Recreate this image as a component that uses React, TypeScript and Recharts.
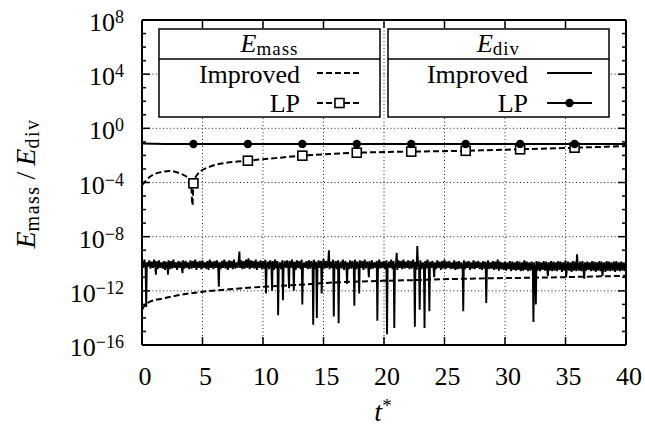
import React from 'react';
import { ComposedChart, Line, XAxis, YAxis, CartesianGrid } from 'recharts';

const FONT = "Liberation Serif, DejaVu Serif, Noto Serif, Times New Roman, serif";

// ---- axis ticks ----
const X_TICKS = [0, 5, 10, 15, 20, 25, 30, 35, 40];
const X_GRID = [5, 10, 15, 20, 25, 30, 35];
const Y_DECADES = [-16, -15, -14, -13, -12, -11, -10, -9, -8, -7, -6, -5, -4, -3, -2, -1, 0, 1, 2, 3, 4, 5, 6, 7, 8];
const Y_MAJOR = [-16, -12, -8, -4, 0, 4, 8];
const Y_GRID = [-12, -8, -4, 0, 4];

// ---- marker times (LP series) ----
const MARKER_T = [4.25, 8.75, 13.25, 17.75, 22.25, 26.75, 31.25, 35.75];

// ---- E_div, LP (log10 values) ----
const EDIV_LP_T = [0, 2, 4.25, 8.75, 13.25, 17.75, 22.25, 26.75, 31.25, 35.75, 40];
const EDIV_LP_LOG = [-1.12, -1.15, -1.16, -1.16, -1.15, -1.16, -1.15, -1.16, -1.15, -1.16, -1.16];

// ---- E_mass, LP (log10 values) ----
const EMASS_LP_T = [0, 0.25, 0.66, 1.49, 2.31, 3.14, 3.83, 4.05, 4.17, 4.25, 4.65, 5.62, 7.0, 8.75, 11, 13.25, 15.5, 17.75, 20, 22.25, 24.5, 26.75, 29, 31.25, 33.5, 35.75, 38, 40];
const EMASS_LP_LOG = [-4.2, -3.94, -3.57, -3.25, -3.15, -3.33, -3.69, -3.95, -5.66, -4.06, -3.33, -2.83, -2.54, -2.39, -2.2, -2.02, -1.9, -1.8, -1.75, -1.72, -1.69, -1.66, -1.6, -1.55, -1.49, -1.43, -1.37, -1.31];

// ---- E_mass, Improved (log10 values) ----
const EMASS_IMP_T = [0, 0.3, 0.66, 1.76, 3.1, 5.0, 7.2, 10, 12.7, 15.5, 20, 22.8, 25.5, 28.3, 32.4, 36.5, 40];
const EMASS_IMP_LOG = [-13.4, -13.0, -12.8, -12.56, -12.31, -12.07, -11.89, -11.7, -11.57, -11.4, -11.26, -11.2, -11.13, -11.08, -11.03, -10.96, -10.89];

// ---- E_div, Improved (log10 values, sampled every 0.1 time units) ----
const EDIV_IMP_DT = 0.1;
const EDIV_IMP_BASE = [
  -9.8, -10.3, -9.7, -10.4, -9.9, -10.2, -9.75, -10.35, -9.85, -10.3, -9.7, -10.25, -9.8, -10.4, -9.75, -10.3, -9.9, -10.35, -9.8, -10.45,
  -9.85, -10.3, -9.75, -10.4, -9.8, -10.35, -9.7, -10.3, -9.9, -10.45, -9.8, -10.3, -9.85, -10.4, -9.75, -10.35, -9.8, -10.3, -9.9, -10.4,
  -9.75, -10.35, -9.8, -10.3, -9.7, -10.45, -9.85, -10.3, -9.8, -10.4, -9.75, -10.3, -9.9, -10.35, -9.8, -10.45, -9.7, -10.3, -9.85, -10.4,
  -9.8, -10.3, -9.75, -10.35, -9.9, -10.4, -9.8, -10.3, -9.7, -10.35, -9.85, -10.45, -9.75, -10.3, -9.8, -10.4, -9.7, -10.35, -9.9, -10.3,
  -9.65, -10.3, -9.75, -10.4, -9.8, -10.35, -9.7, -10.3, -9.6, -10.4, -9.75, -10.3, -9.8, -10.35, -9.7, -10.45, -9.85, -10.3, -9.75, -10.4,
  -9.8, -10.35, -9.7, -10.3, -9.85, -10.4, -9.75, -10.3, -9.8, -10.45, -9.7, -10.35, -9.8, -10.3, -9.9, -10.4, -9.75, -10.35, -9.8, -10.3,
  -9.75, -10.4, -9.8, -10.3, -9.7, -10.35, -9.85, -10.45, -9.75, -10.3, -9.8, -10.4, -9.7, -10.35, -9.9, -10.3, -9.8, -10.4, -9.75, -10.35,
  -9.8, -10.3, -9.7, -10.4, -9.85, -10.35, -9.75, -10.3, -9.8, -10.45, -9.65, -10.35, -9.8, -10.3, -9.75, -10.4, -9.85, -10.3, -9.7, -10.35,
  -9.8, -10.4, -9.75, -10.3, -9.85, -10.35, -9.7, -10.45, -9.8, -10.3, -9.9, -10.4, -9.75, -10.35, -9.8, -10.3, -9.7, -10.4, -9.85, -10.35,
  -9.75, -10.3, -9.8, -10.45, -9.7, -10.35, -9.85, -10.3, -9.8, -10.4, -9.75, -10.35, -9.9, -10.3, -9.8, -10.45, -9.7, -10.35, -9.85, -10.3,
  -9.8, -10.4, -9.75, -10.35, -9.85, -10.3, -9.7, -10.4, -9.8, -10.35, -9.9, -10.45, -9.75, -10.3, -9.8, -10.4, -9.7, -10.35, -9.85, -10.3,
  -9.75, -10.4, -9.8, -10.35, -9.7, -10.3, -9.85, -10.45, -9.8, -10.35, -9.75, -10.4, -9.9, -10.3, -9.8, -10.35, -9.7, -10.45, -9.85, -10.3,
  -9.8, -10.35, -9.9, -10.4, -9.75, -10.3, -9.85, -10.45, -9.8, -10.35, -9.7, -10.4, -9.85, -10.3, -9.8, -10.4, -9.9, -10.35, -9.75, -10.45,
  -9.85, -10.4, -9.8, -10.35, -9.9, -10.45, -9.75, -10.4, -9.85, -10.3, -9.8, -10.45, -9.9, -10.35, -9.75, -10.4, -9.85, -10.3, -9.8, -10.4,
  -9.9, -10.45, -9.8, -10.35, -9.85, -10.5, -9.75, -10.4, -9.9, -10.35, -9.8, -10.45, -9.85, -10.4, -9.7, -10.5, -9.85, -10.4, -9.9, -10.45,
  -9.85, -10.5, -9.9, -10.4, -9.8, -10.55, -9.85, -10.45, -9.9, -10.5, -9.8, -10.45, -9.85, -10.55, -9.9, -10.5, -9.75, -10.45, -9.85, -10.55,
  -9.9, -10.5, -9.85, -10.45, -9.9, -10.6, -9.8, -10.5, -9.85, -10.55, -9.9, -10.45, -9.8, -10.5, -9.85, -10.6, -9.9, -10.5, -9.8, -10.55,
  -9.85, -10.5, -9.9, -10.55, -9.8, -10.45, -9.85, -10.6, -9.9, -10.5, -9.75, -10.55, -9.85, -10.5, -9.9, -10.6, -9.8, -10.5, -9.85, -10.55,
  -9.9, -10.5, -9.85, -10.55, -9.8, -10.6, -9.9, -10.5, -9.85, -10.45, -9.9, -10.55, -9.8, -10.5, -9.85, -10.6, -9.9, -10.5, -9.8, -10.55,
  -9.85, -10.5, -9.9, -10.6, -9.8, -10.5, -9.85, -10.55, -9.9, -10.5, -9.85, -10.6, -9.8, -10.5, -9.9, -10.55, -9.85, -10.5, -9.9, -10.55,
  -9.85,
];
// sharp excursions of E_div Improved: [t, log10 value]
const EDIV_IMP_SPIKES: [number, number][] = [
  [0.35, -13.2], [1.15, -10.8], [2.15, -10.8], [3.35, -10.7], [6.35, -11.7], [8.05, -9.1],
  [10.25, -12.2], [10.75, -12.0], [11.25, -13.8], [11.65, -12.7], [12.15, -11.8], [12.55, -12.0],
  [13.25, -13.0], [14.15, -14.5], [14.45, -14.0], [14.85, -12.2], [15.45, -9.0], [15.85, -13.9],
  [16.25, -14.4], [16.95, -11.5], [17.55, -13.1], [17.95, -12.2], [18.75, -11.0], [19.45, -14.2],
  [20.25, -15.2], [20.85, -14.75], [21.05, -9.2], [22.55, -14.65], [22.75, -8.7], [22.95, -13.4],
  [23.35, -14.75], [23.75, -13.5], [24.15, -11.0], [26.55, -13.5], [28.45, -12.9], [32.35, -14.3],
  [32.55, -13.0], [33.55, -10.9], [35.05, -11.0], [35.95, -9.3], [36.55, -11.1], [38.05, -10.9],
];

// ---- build tables ----
type Pt = { t: number; y: number; mk: boolean };
const toPts = (ts: number[], logs: number[], marks: number[] = []): Pt[] =>
  ts.map((t, i) => ({ t, y: Math.pow(10, logs[i]), mk: marks.includes(t) }));

const edivLP = toPts(EDIV_LP_T, EDIV_LP_LOG, MARKER_T);
const emassLP = toPts(EMASS_LP_T, EMASS_LP_LOG, MARKER_T);
const emassImp = toPts(EMASS_IMP_T, EMASS_IMP_LOG);
const edivImp: Pt[] = [
  ...EDIV_IMP_BASE.map((v, i) => ({ t: Math.round(i * EDIV_IMP_DT * 100) / 100, y: Math.pow(10, v), mk: false })),
  ...EDIV_IMP_SPIKES.map(([t, v]) => ({ t, y: Math.pow(10, v), mk: false })),
].sort((a, b) => a.t - b.t);

const yTicks = Y_DECADES.map((e) => Math.pow(10, e));
const yGrid = Y_GRID.map((e) => Math.pow(10, e));

const expOf = (v: number) => Math.round(Math.log10(v));

// ---- tick renderers ----
const BottomTick = (p: any) => {
  const { x, y, payload } = p;
  return (
    <g>
      <line x1={x} x2={x} y1={y} y2={y - 8} stroke="#000" strokeWidth={1.5} />
      <text x={x + 3} y={y + 40} textAnchor="middle" fontFamily={FONT} style={{ fontFamily: FONT }} fontSize={26} fill="#000">
        {payload.value}
      </text>
    </g>
  );
};
const TopTick = (p: any) => {
  const { x, y } = p;
  return <line x1={x} x2={x} y1={y} y2={y + 8} stroke="#000" strokeWidth={1.5} />;
};
const LeftTick = (p: any) => {
  const { x, y, payload } = p;
  const e = expOf(payload.value);
  const major = Y_MAJOR.includes(e);
  return (
    <g>
      <line x1={x} x2={x + (major ? 8 : 4)} y1={y} y2={y} stroke="#000" strokeWidth={1.5} />
      {major && (
        <text x={124} y={y + 11} textAnchor="end" fontFamily={FONT} style={{ fontFamily: FONT }} fontSize={26} fill="#000">
          <tspan>10</tspan>
          <tspan dy={-8} fontSize={18}>{e < 0 ? '\u2212' + Math.abs(e) : String(e)}</tspan>
        </text>
      )}
    </g>
  );
};
const RightTick = (p: any) => {
  const { x, y, payload } = p;
  const e = expOf(payload.value);
  const major = Y_MAJOR.includes(e);
  return <line x1={x} x2={x - (major ? 8 : 4)} y1={y} y2={y} stroke="#000" strokeWidth={1.5} />;
};

// ---- markers ----
const SquareDot = (p: any) => {
  const { cx, cy, payload, index } = p;
  if (!payload || !payload.mk) return <g key={'sq' + index} />;
  return (
    <rect key={'sq' + index} x={cx - 4.5} y={cy - 4.5} width={9} height={9} fill="#fff" stroke="#000" strokeWidth={1.6} strokeDasharray="none" />
  );
};
const CircleDot = (p: any) => {
  const { cx, cy, payload, index } = p;
  if (!payload || !payload.mk) return <g key={'ci' + index} />;
  return <circle key={'ci' + index} cx={cx} cy={cy} r={4.2} fill="#000" stroke="none" />;
};

// ---- legend overlay ----
const Legend = () => (
  <svg width={645} height={428} style={{ position: 'absolute', left: 0, top: 0, pointerEvents: 'none', fontFamily: FONT }}>
    <g fontFamily={FONT} fill="#000">
      {/* E_mass box */}
      <rect x={159} y={29} width={221} height={88} fill="#fff" stroke="#000" strokeWidth={1.5} />
      <line x1={159} x2={380} y1={59} y2={59} stroke="#000" strokeWidth={1.5} />
      <text x={269.5} y={52} textAnchor="middle" fontSize={26}>
        <tspan fontStyle="italic">E</tspan>
        <tspan fontSize={19} dy={3} letterSpacing={1}>mass</tspan>
      </text>
      <text x={300} y={83} textAnchor="end" fontSize={26}>Improved</text>
      <line x1={317} x2={362} y1={73} y2={73} stroke="#000" strokeWidth={2} strokeDasharray="6 3" />
      <text x={300} y={111.5} textAnchor="end" fontSize={26}>LP</text>
      <line x1={317} x2={362} y1={103} y2={103} stroke="#000" strokeWidth={2} strokeDasharray="6 3" />
      <rect x={335} y={98.5} width={9} height={9} fill="#fff" stroke="#000" strokeWidth={1.6} />
      {/* E_div box */}
      <rect x={388} y={29} width={221} height={88} fill="#fff" stroke="#000" strokeWidth={1.5} />
      <line x1={388} x2={609} y1={59} y2={59} stroke="#000" strokeWidth={1.5} />
      <text x={498.5} y={52} textAnchor="middle" fontSize={26}>
        <tspan fontStyle="italic">E</tspan>
        <tspan fontSize={19} dy={3} letterSpacing={1}>div</tspan>
      </text>
      <text x={528} y={83} textAnchor="end" fontSize={26}>Improved</text>
      <line x1={547} x2={592} y1={73} y2={73} stroke="#000" strokeWidth={2} />
      <text x={528} y={111.5} textAnchor="end" fontSize={26}>LP</text>
      <line x1={547} x2={592} y1={103} y2={103} stroke="#000" strokeWidth={2} />
      <circle cx={569.5} cy={103} r={4.2} fill="#000" />
      {/* axis titles */}
      <text transform="translate(35,183.5) rotate(-90)" textAnchor="middle" fontSize={28}>
        <tspan fontStyle="italic">E</tspan>
        <tspan fontSize={20} dy={4} letterSpacing={1.5}>mass</tspan>
        <tspan dy={-4} dx={6}>/</tspan>
        <tspan dx={6} fontStyle="italic">E</tspan>
        <tspan fontSize={20} dy={4} letterSpacing={1.5}>div</tspan>
      </text>
      <text x={383} y={421} textAnchor="middle" fontSize={28}>
        <tspan fontStyle="italic">t</tspan>
        <tspan fontSize={19} dy={-9}>*</tspan>
      </text>
    </g>
  </svg>
);

export default function App() {
  return (
    <div style={{ position: 'absolute', left: 0, top: 0, width: 645, height: 428, background: '#fff', fontFamily: FONT }}>
      <ComposedChart width={645} height={428} margin={{ top: 0, right: 0, bottom: 0, left: 0 }}>
        <CartesianGrid
          stroke="#222"
          strokeWidth={1}
          strokeDasharray="1 2.5"
          horizontalValues={yGrid}
          verticalValues={X_GRID}
        />
        <XAxis
          xAxisId={0}
          dataKey="t"
          type="number"
          domain={[0, 40]}
          ticks={X_TICKS}
          interval={0}
          height={83}
          allowDataOverflow
          axisLine={{ stroke: '#000', strokeWidth: 2 }}
          tickLine={false}
          tickSize={0}
          tickMargin={0}
          tick={BottomTick}
        />
        <XAxis
          xAxisId="top"
          orientation="top"
          dataKey="t"
          type="number"
          domain={[0, 40]}
          ticks={X_TICKS}
          interval={0}
          height={20}
          allowDataOverflow
          axisLine={{ stroke: '#000', strokeWidth: 2 }}
          tickLine={false}
          tickSize={0}
          tickMargin={0}
          tick={TopTick}
        />
        <YAxis
          yAxisId={0}
          scale="log"
          type="number"
          domain={[1e-16, 1e8]}
          ticks={yTicks}
          interval={0}
          width={142}
          allowDataOverflow
          axisLine={{ stroke: '#000', strokeWidth: 2 }}
          tickLine={false}
          tickSize={0}
          tickMargin={0}
          tick={LeftTick}
        />
        <YAxis
          yAxisId="right"
          orientation="right"
          scale="log"
          type="number"
          domain={[1e-16, 1e8]}
          ticks={yTicks}
          interval={0}
          width={19}
          allowDataOverflow
          axisLine={{ stroke: '#000', strokeWidth: 2 }}
          tickLine={false}
          tickSize={0}
          tickMargin={0}
          tick={RightTick}
        />
        <Line data={emassImp} dataKey="y" type="monotone" stroke="#000" strokeWidth={2} strokeDasharray="6 3" dot={false} activeDot={false} isAnimationActive={false} />
        <Line data={edivImp} dataKey="y" type="linear" stroke="#000" strokeWidth={1.9} dot={false} activeDot={false} isAnimationActive={false} />
        <Line data={emassLP} dataKey="y" type="monotone" stroke="#000" strokeWidth={2} strokeDasharray="6 3" dot={SquareDot} activeDot={false} isAnimationActive={false} />
        <Line data={edivLP} dataKey="y" type="monotone" stroke="#000" strokeWidth={2} dot={CircleDot} activeDot={false} isAnimationActive={false} />
      </ComposedChart>
      <Legend />
    </div>
  );
}
